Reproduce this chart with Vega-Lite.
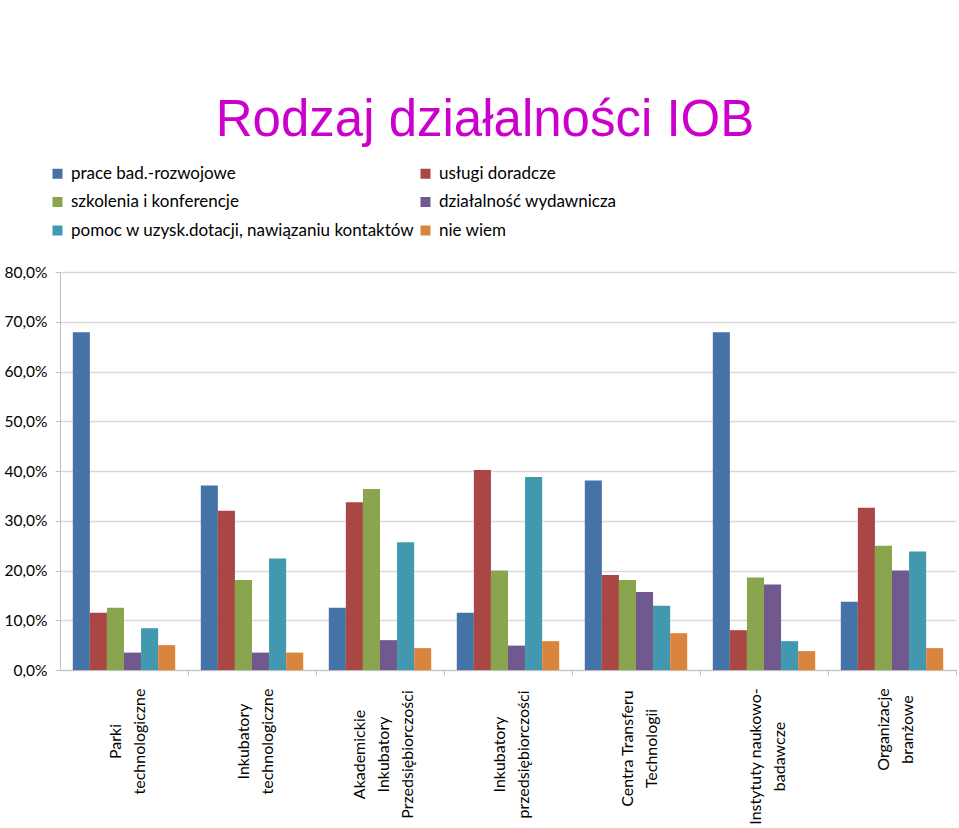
{
  "$schema": "https://vega.github.io/schema/vega-lite/v6.json",
  "width": 896,
  "height": 398,
  "autosize": {"type": "none"},
  "padding": {"left": 60, "top": 272, "right": 3, "bottom": 157},
  "background": "white",
  "title": {
    "text": "Rodzaj działalności IOB",
    "font": "Liberation Sans",
    "fontSize": 51,
    "fontWeight": "normal",
    "color": "#CC00CC",
    "anchor": "middle",
    "dx": -23,
    "dy": 2,
    "offset": 20
  },
  "data": {
    "values": [
      {"kategoria": "Parki technologiczne", "rodzaj": "prace bad.-rozwojowe", "wartosc": 67.9},
      {"kategoria": "Parki technologiczne", "rodzaj": "usługi doradcze", "wartosc": 11.5},
      {"kategoria": "Parki technologiczne", "rodzaj": "szkolenia i konferencje", "wartosc": 12.5},
      {"kategoria": "Parki technologiczne", "rodzaj": "działalność wydawnicza", "wartosc": 3.5},
      {"kategoria": "Parki technologiczne", "rodzaj": "pomoc w uzysk.dotacji, nawiązaniu kontaktów", "wartosc": 8.4},
      {"kategoria": "Parki technologiczne", "rodzaj": "nie wiem", "wartosc": 5.0},
      {"kategoria": "Inkubatory technologiczne", "rodzaj": "prace bad.-rozwojowe", "wartosc": 37.1},
      {"kategoria": "Inkubatory technologiczne", "rodzaj": "usługi doradcze", "wartosc": 32.0},
      {"kategoria": "Inkubatory technologiczne", "rodzaj": "szkolenia i konferencje", "wartosc": 18.1},
      {"kategoria": "Inkubatory technologiczne", "rodzaj": "działalność wydawnicza", "wartosc": 3.5},
      {"kategoria": "Inkubatory technologiczne", "rodzaj": "pomoc w uzysk.dotacji, nawiązaniu kontaktów", "wartosc": 22.4},
      {"kategoria": "Inkubatory technologiczne", "rodzaj": "nie wiem", "wartosc": 3.5},
      {"kategoria": "Akademickie Inkubatory Przedsiębiorczości", "rodzaj": "prace bad.-rozwojowe", "wartosc": 12.5},
      {"kategoria": "Akademickie Inkubatory Przedsiębiorczości", "rodzaj": "usługi doradcze", "wartosc": 33.7},
      {"kategoria": "Akademickie Inkubatory Przedsiębiorczości", "rodzaj": "szkolenia i konferencje", "wartosc": 36.4},
      {"kategoria": "Akademickie Inkubatory Przedsiębiorczości", "rodzaj": "działalność wydawnicza", "wartosc": 6.0},
      {"kategoria": "Akademickie Inkubatory Przedsiębiorczości", "rodzaj": "pomoc w uzysk.dotacji, nawiązaniu kontaktów", "wartosc": 25.7},
      {"kategoria": "Akademickie Inkubatory Przedsiębiorczości", "rodzaj": "nie wiem", "wartosc": 4.4},
      {"kategoria": "Inkubatory przedsiębiorczości", "rodzaj": "prace bad.-rozwojowe", "wartosc": 11.5},
      {"kategoria": "Inkubatory przedsiębiorczości", "rodzaj": "usługi doradcze", "wartosc": 40.2},
      {"kategoria": "Inkubatory przedsiębiorczości", "rodzaj": "szkolenia i konferencje", "wartosc": 20.0},
      {"kategoria": "Inkubatory przedsiębiorczości", "rodzaj": "działalność wydawnicza", "wartosc": 4.9},
      {"kategoria": "Inkubatory przedsiębiorczości", "rodzaj": "pomoc w uzysk.dotacji, nawiązaniu kontaktów", "wartosc": 38.8},
      {"kategoria": "Inkubatory przedsiębiorczości", "rodzaj": "nie wiem", "wartosc": 5.8},
      {"kategoria": "Centra Transferu Technologii", "rodzaj": "prace bad.-rozwojowe", "wartosc": 38.1},
      {"kategoria": "Centra Transferu Technologii", "rodzaj": "usługi doradcze", "wartosc": 19.1},
      {"kategoria": "Centra Transferu Technologii", "rodzaj": "szkolenia i konferencje", "wartosc": 18.1},
      {"kategoria": "Centra Transferu Technologii", "rodzaj": "działalność wydawnicza", "wartosc": 15.7},
      {"kategoria": "Centra Transferu Technologii", "rodzaj": "pomoc w uzysk.dotacji, nawiązaniu kontaktów", "wartosc": 12.9},
      {"kategoria": "Centra Transferu Technologii", "rodzaj": "nie wiem", "wartosc": 7.4},
      {"kategoria": "Instytuty naukowo-badawcze", "rodzaj": "prace bad.-rozwojowe", "wartosc": 67.9},
      {"kategoria": "Instytuty naukowo-badawcze", "rodzaj": "usługi doradcze", "wartosc": 8.0},
      {"kategoria": "Instytuty naukowo-badawcze", "rodzaj": "szkolenia i konferencje", "wartosc": 18.6},
      {"kategoria": "Instytuty naukowo-badawcze", "rodzaj": "działalność wydawnicza", "wartosc": 17.2},
      {"kategoria": "Instytuty naukowo-badawcze", "rodzaj": "pomoc w uzysk.dotacji, nawiązaniu kontaktów", "wartosc": 5.8},
      {"kategoria": "Instytuty naukowo-badawcze", "rodzaj": "nie wiem", "wartosc": 3.8},
      {"kategoria": "Organizacje branżowe", "rodzaj": "prace bad.-rozwojowe", "wartosc": 13.7},
      {"kategoria": "Organizacje branżowe", "rodzaj": "usługi doradcze", "wartosc": 32.6},
      {"kategoria": "Organizacje branżowe", "rodzaj": "szkolenia i konferencje", "wartosc": 25.0},
      {"kategoria": "Organizacje branżowe", "rodzaj": "działalność wydawnicza", "wartosc": 20.0},
      {"kategoria": "Organizacje branżowe", "rodzaj": "pomoc w uzysk.dotacji, nawiązaniu kontaktów", "wartosc": 23.8},
      {"kategoria": "Organizacje branżowe", "rodzaj": "nie wiem", "wartosc": 4.4}
    ]
  },
  "mark": {"type": "bar"},
  "encoding": {
    "x": {
      "field": "kategoria",
      "type": "nominal",
      "sort": null,
      "title": null,
      "scale": {"paddingInner": 0.2, "paddingOuter": 0.1},
      "axis": {
        "labelAngle": -90,
        "labelAlign": "center",
        "labelBaseline": "middle",
        "labelFont": "Lato",
        "labelFontSize": 16,
        "labelColor": "#000000",
        "labelLineHeight": 24,
        "labelPadding": {
          "condition": [
            {"test": "datum.value == 'Akademickie Inkubatory Przedsiębiorczości' || datum.value == 'Inkubatory przedsiębiorczości'", "value": 79},
            {"test": "datum.value == 'Centra Transferu Technologii'", "value": 73},
            {"test": "datum.value == 'Instytuty naukowo-badawcze'", "value": 81},
            {"test": "datum.value == 'Organizacje branżowe'", "value": 54}
          ],
          "value": 66
        },
        "tickOffset": 64,
        "labelOffset": {
          "condition": {"test": "datum.value == 'Akademickie Inkubatory Przedsiębiorczości'", "value": -85},
          "value": -73
        },
        "labelLimit": 300,
        "domainColor": "#bfbfbf",
        "tickColor": "#bfbfbf",
        "tickSize": 5,
        "labelExpr": "datum.value == 'Parki technologiczne' ? ['Parki', 'technologiczne'] : datum.value == 'Inkubatory technologiczne' ? ['Inkubatory', 'technologiczne'] : datum.value == 'Akademickie Inkubatory Przedsiębiorczości' ? ['Akademickie', 'Inkubatory', 'Przedsiębiorczości'] : datum.value == 'Inkubatory przedsiębiorczości' ? ['Inkubatory', 'przedsiębiorczości'] : datum.value == 'Centra Transferu Technologii' ? ['Centra Transferu', 'Technologii'] : datum.value == 'Instytuty naukowo-badawcze' ? ['Instytuty naukowo-', 'badawcze'] : datum.value == 'Organizacje branżowe' ? ['Organizacje', 'branżowe'] : ''"
      }
    },
    "xOffset": {
      "field": "rodzaj",
      "type": "nominal",
      "sort": ["prace bad.-rozwojowe", "usługi doradcze", "szkolenia i konferencje", "działalność wydawnicza", "pomoc w uzysk.dotacji, nawiązaniu kontaktów", "nie wiem"]
    },
    "y": {
      "field": "wartosc",
      "type": "quantitative",
      "title": null,
      "scale": {"domain": [0, 80], "nice": false},
      "axis": {
        "values": [0, 10, 20, 30, 40, 50, 60, 70, 80],
        "labelExpr": "replace(format(datum.value, '.1f'), '.', ',') + '%'",
        "labelFont": "Lato",
        "labelFontSize": 15.5,
        "labelColor": "#000000",
        "labelPadding": 8,
        "domainColor": "#bfbfbf",
        "tickColor": "#bfbfbf",
        "tickSize": 5,
        "gridColor": "#d9d9d9",
        "gridWidth": 1.5
      }
    },
    "color": {
      "field": "rodzaj",
      "type": "nominal",
      "scale": {
        "domain": ["prace bad.-rozwojowe", "szkolenia i konferencje", "pomoc w uzysk.dotacji, nawiązaniu kontaktów", "usługi doradcze", "działalność wydawnicza", "nie wiem"],
        "range": ["#4572A7", "#89A54E", "#4198AF", "#AA4643", "#71588F", "#DB843D"]
      },
      "legend": {
        "title": null,
        "orient": "none",
        "legendX": -11,
        "legendY": -107,
        "columns": 2,
        "columnPadding": 2,
        "rowPadding": 10.5,
        "symbolType": "square",
        "symbolSize": 100,
        "symbolStrokeWidth": 0,
        "labelFont": "Lato",
        "labelFontSize": 17,
        "labelColor": "#000000",
        "labelLimit": 400,
        "labelOffset": 5
      }
    }
  },
  "config": {
    "view": {"stroke": null}
  }
}
